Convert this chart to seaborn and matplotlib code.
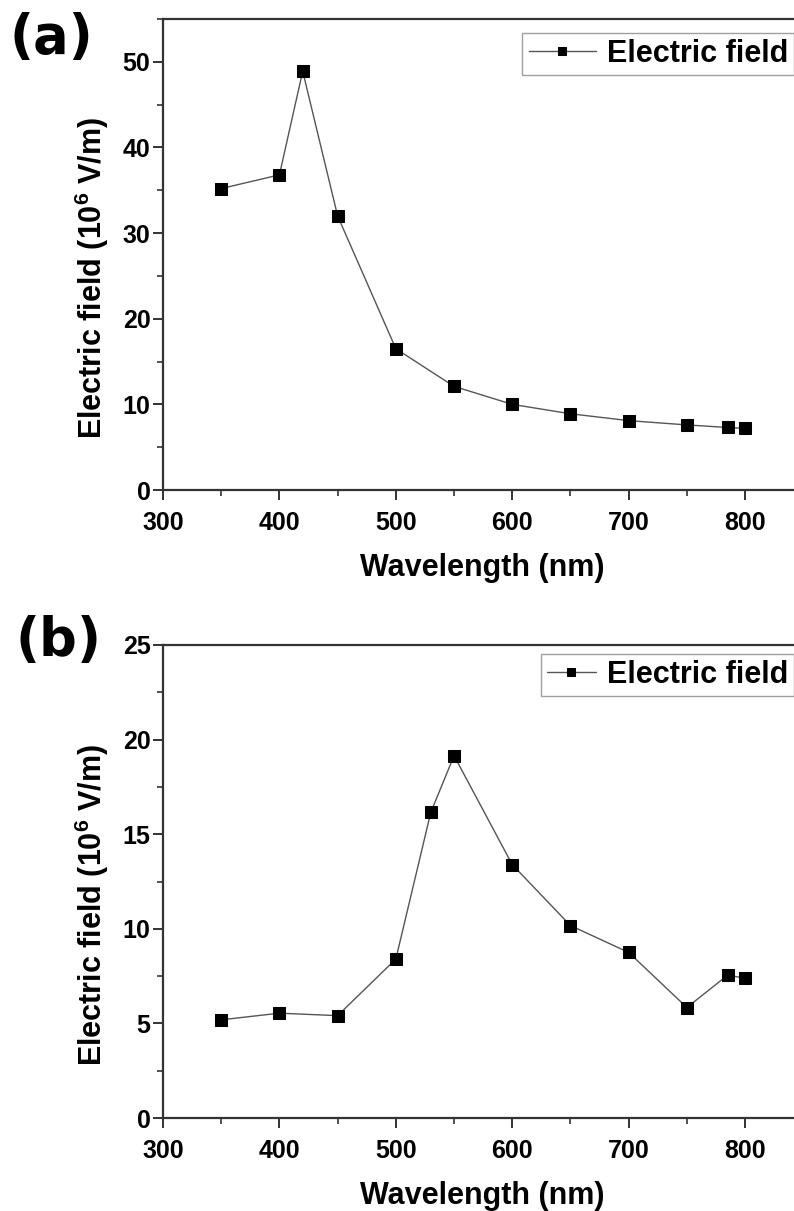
import numpy as np
import pandas as pd
import matplotlib
matplotlib.use('Agg')
import matplotlib.pyplot as plt
from matplotlib import font_manager
from matplotlib.ticker import MultipleLocator
import seaborn as sns

# values
wl_a = [350, 400, 420, 450, 500, 550, 600, 650, 700, 750, 785, 800]
field_a = [35.2, 36.8, 48.9, 32.0, 16.5, 12.1, 10.0, 8.9, 8.1, 7.6, 7.3, 7.2]

wl_b = [350, 400, 450, 500, 530, 550, 600, 650, 700, 750, 785, 800]
field_b = [5.19, 5.54, 5.41, 8.40, 16.15, 19.15, 13.39, 10.17, 8.75, 5.84, 7.55, 7.39]

xticks = [300, 400, 500, 600, 700, 800]
series_name = 'Electric field'

sns.set_style('ticks')
plt.rcParams['font.family'] = ['Liberation Sans', 'DejaVu Sans']
plt.rcParams['font.weight'] = 'bold'
plt.rcParams['mathtext.fontset'] = 'custom'
plt.rcParams['mathtext.bf'] = 'Liberation Sans:bold'
plt.rcParams['mathtext.rm'] = 'Liberation Sans:bold'
plt.rcParams['mathtext.default'] = 'bf'
for k in ['text.color', 'axes.labelcolor', 'xtick.color', 'ytick.color']:
    plt.rcParams[k] = 'black'

names = {f.name for f in font_manager.fontManager.ttflist}
tick_family = ['Liberation Sans Narrow'] if 'Liberation Sans Narrow' in names else ['Liberation Sans']

fig = plt.figure(figsize=(7.94, 12.11), dpi=100)
ax_a = fig.add_axes([163 / 794, 1 - 490 / 1211, 631 / 794, 471 / 1211])
ax_b = fig.add_axes([163 / 794, 1 - 1118 / 1211, 631 / 794, 473 / 1211])


def draw(ax, wl, vals, ymax, ystep, leg_anchor, h_px, pad):
    df = pd.DataFrame({'wl': wl, 'val': vals})
    sns.lineplot(data=df, x='wl', y='val', ax=ax, color='#555555', linewidth=1.0,
                 marker='s', markersize=9, markerfacecolor='black',
                 markeredgecolor='black', label=series_name)
    ax.set_xlim(300, 842)
    ax.set_ylim(0, ymax)
    ax.set_xticks(xticks)
    ax.xaxis.set_minor_locator(MultipleLocator(50))
    ax.yaxis.set_major_locator(MultipleLocator(ystep))
    ax.yaxis.set_minor_locator(MultipleLocator(ystep / 2))
    ax.spines['right'].set_visible(False)
    for s in ['left', 'bottom', 'top']:
        ax.spines[s].set_linewidth(1.6)
        ax.spines[s].set_color('#333333')
    ax.tick_params(which='major', direction='out', length=7, width=1.4,
                   labelsize=18, color='#333333')
    ax.tick_params(which='minor', direction='out', length=4, width=1.2,
                   color='#333333')
    ax.tick_params(axis='x', which='major', pad=8)
    ax.tick_params(axis='y', which='major', pad=2)
    for lab in ax.get_xticklabels() + ax.get_yticklabels():
        lab.set_fontweight('bold')
        lab.set_family(tick_family)
    ax.set_xlabel('Wavelength (nm)', fontsize=22, fontweight='bold', va='top')
    ax.xaxis.set_label_coords(0.506, -63 / h_px)
    ax.set_ylabel('Electric field (10$^6$ V/m)', fontsize=22, fontweight='bold')
    ax.yaxis.set_label_coords(-52 / 631, 0.45)
    leg = ax.legend(loc='upper right', bbox_to_anchor=leg_anchor, fontsize=22,
                    frameon=True, fancybox=False, handlelength=pad,
                    handletextpad=0.35, borderpad=0.2, markerscale=0.7,
                    borderaxespad=0)
    leg.get_frame().set_edgecolor('#888888')
    leg.get_frame().set_linewidth(1.0)
    for t in leg.get_texts():
        t.set_fontweight('bold')


draw(ax_a, wl_a, field_a, 55, 10, (1.0, 1 - 14 / 471), 471, 2.2)
draw(ax_b, wl_b, field_b, 25, 5, (1.0, 1 - 9 / 473), 473, 1.6)

fig.text(10 / 794, 1 - 38 / 1211, '(a)', fontsize=38, fontweight='bold',
         family='DejaVu Sans', va='center', ha='left')
fig.text(16 / 794, 1 - 641 / 1211, '(b)', fontsize=38, fontweight='bold',
         family='DejaVu Sans', va='center', ha='left')

fig.savefig('out.png', dpi=100)
